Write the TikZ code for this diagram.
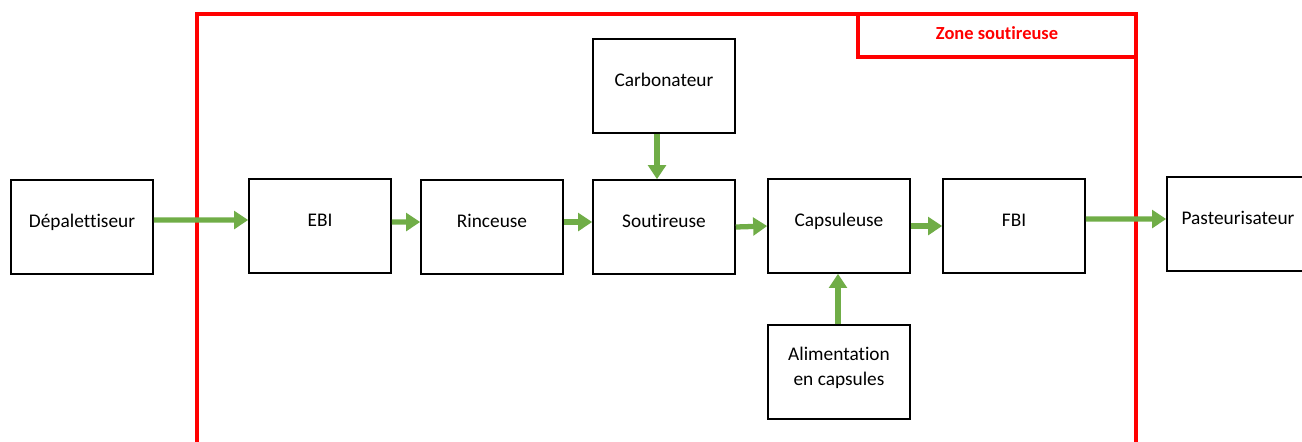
\documentclass[tikz,border=0pt]{standalone}
\usepackage{fontspec}
\setmainfont{Carlito}[Ligatures=NoCommon]
\usepackage{xcolor}
\usetikzlibrary{arrows.meta}

\definecolor{flowgreen}{RGB}{112,173,71}

\begin{document}
\begin{tikzpicture}[
  x=0.02cm, y=-0.02cm,
  every node/.style={font=\fontsize{11}{14.5}\selectfont},
  machine/.style={draw, line width=0.9pt, minimum width=2.84cm, minimum height=1.88cm,
    inner sep=0pt, align=center, text height=7.5pt, text depth=6.5pt},
  flow/.style={line width=3pt, draw=flowgreen,
    -{Triangle[width=10pt, length=8pt, fill=flowgreen]}},
  zone/.style={draw=red, line width=2.4pt}
]
\useasboundingbox (0,0) rectangle (1302,441);

% zone soutireuse
\draw[zone] (197,450) -- (197,14) -- (1136,14) -- (1136,450);
\draw[zone] (858,14) -- (858,57) -- (1136,57);
\node[text=red, font=\fontsize{10.5}{12}\selectfont\bfseries] (zlabel) at (997,33) {Zone soutireuse};

% machines
\node[machine] (dep) at (82,227) {Dépalettiseur};
\node[machine] (ebi) at (320,226) {EBI};
\node[machine] (rinc) at (492,227) {Rinceuse};
\node[machine] (sout) at (664,227) {Soutireuse};
\node[machine] (carb) at (664,86) {Carbonateur};
\node[machine] (caps) at (839,226) {Capsuleuse};
\node[machine] (fbi) at (1014,226) {FBI};
\node[machine] (past) at (1238,224) {Pasteurisateur};
\node[machine, text height=22pt] (alim) at (839,372) {Alimentation\\en capsules};

% flux
\draw[flow] ([yshift=0.14cm]dep.east) -- ([yshift=0.12cm]ebi.west);
\draw[flow] ([yshift=0.08cm]ebi.east) -- ([yshift=0.1cm]rinc.west);
\draw[flow] ([yshift=0.1cm]rinc.east) -- ([yshift=0.1cm]sout.west);
\draw[flow] ([xshift=-0.14cm]carb.south) -- ([xshift=-0.14cm]sout.north);
\draw[flow] ([yshift=0cm]sout.east) -- ([yshift=0cm]caps.west);
\draw[flow] ([yshift=0cm]caps.east) -- ([yshift=0cm]fbi.west);
\draw[flow] ([yshift=0.14cm]fbi.east) -- ([yshift=0.1cm]past.west);
\draw[flow] ([xshift=-0.02cm]alim.north) -- ([xshift=-0.02cm]caps.south);
\end{tikzpicture}
\end{document}
